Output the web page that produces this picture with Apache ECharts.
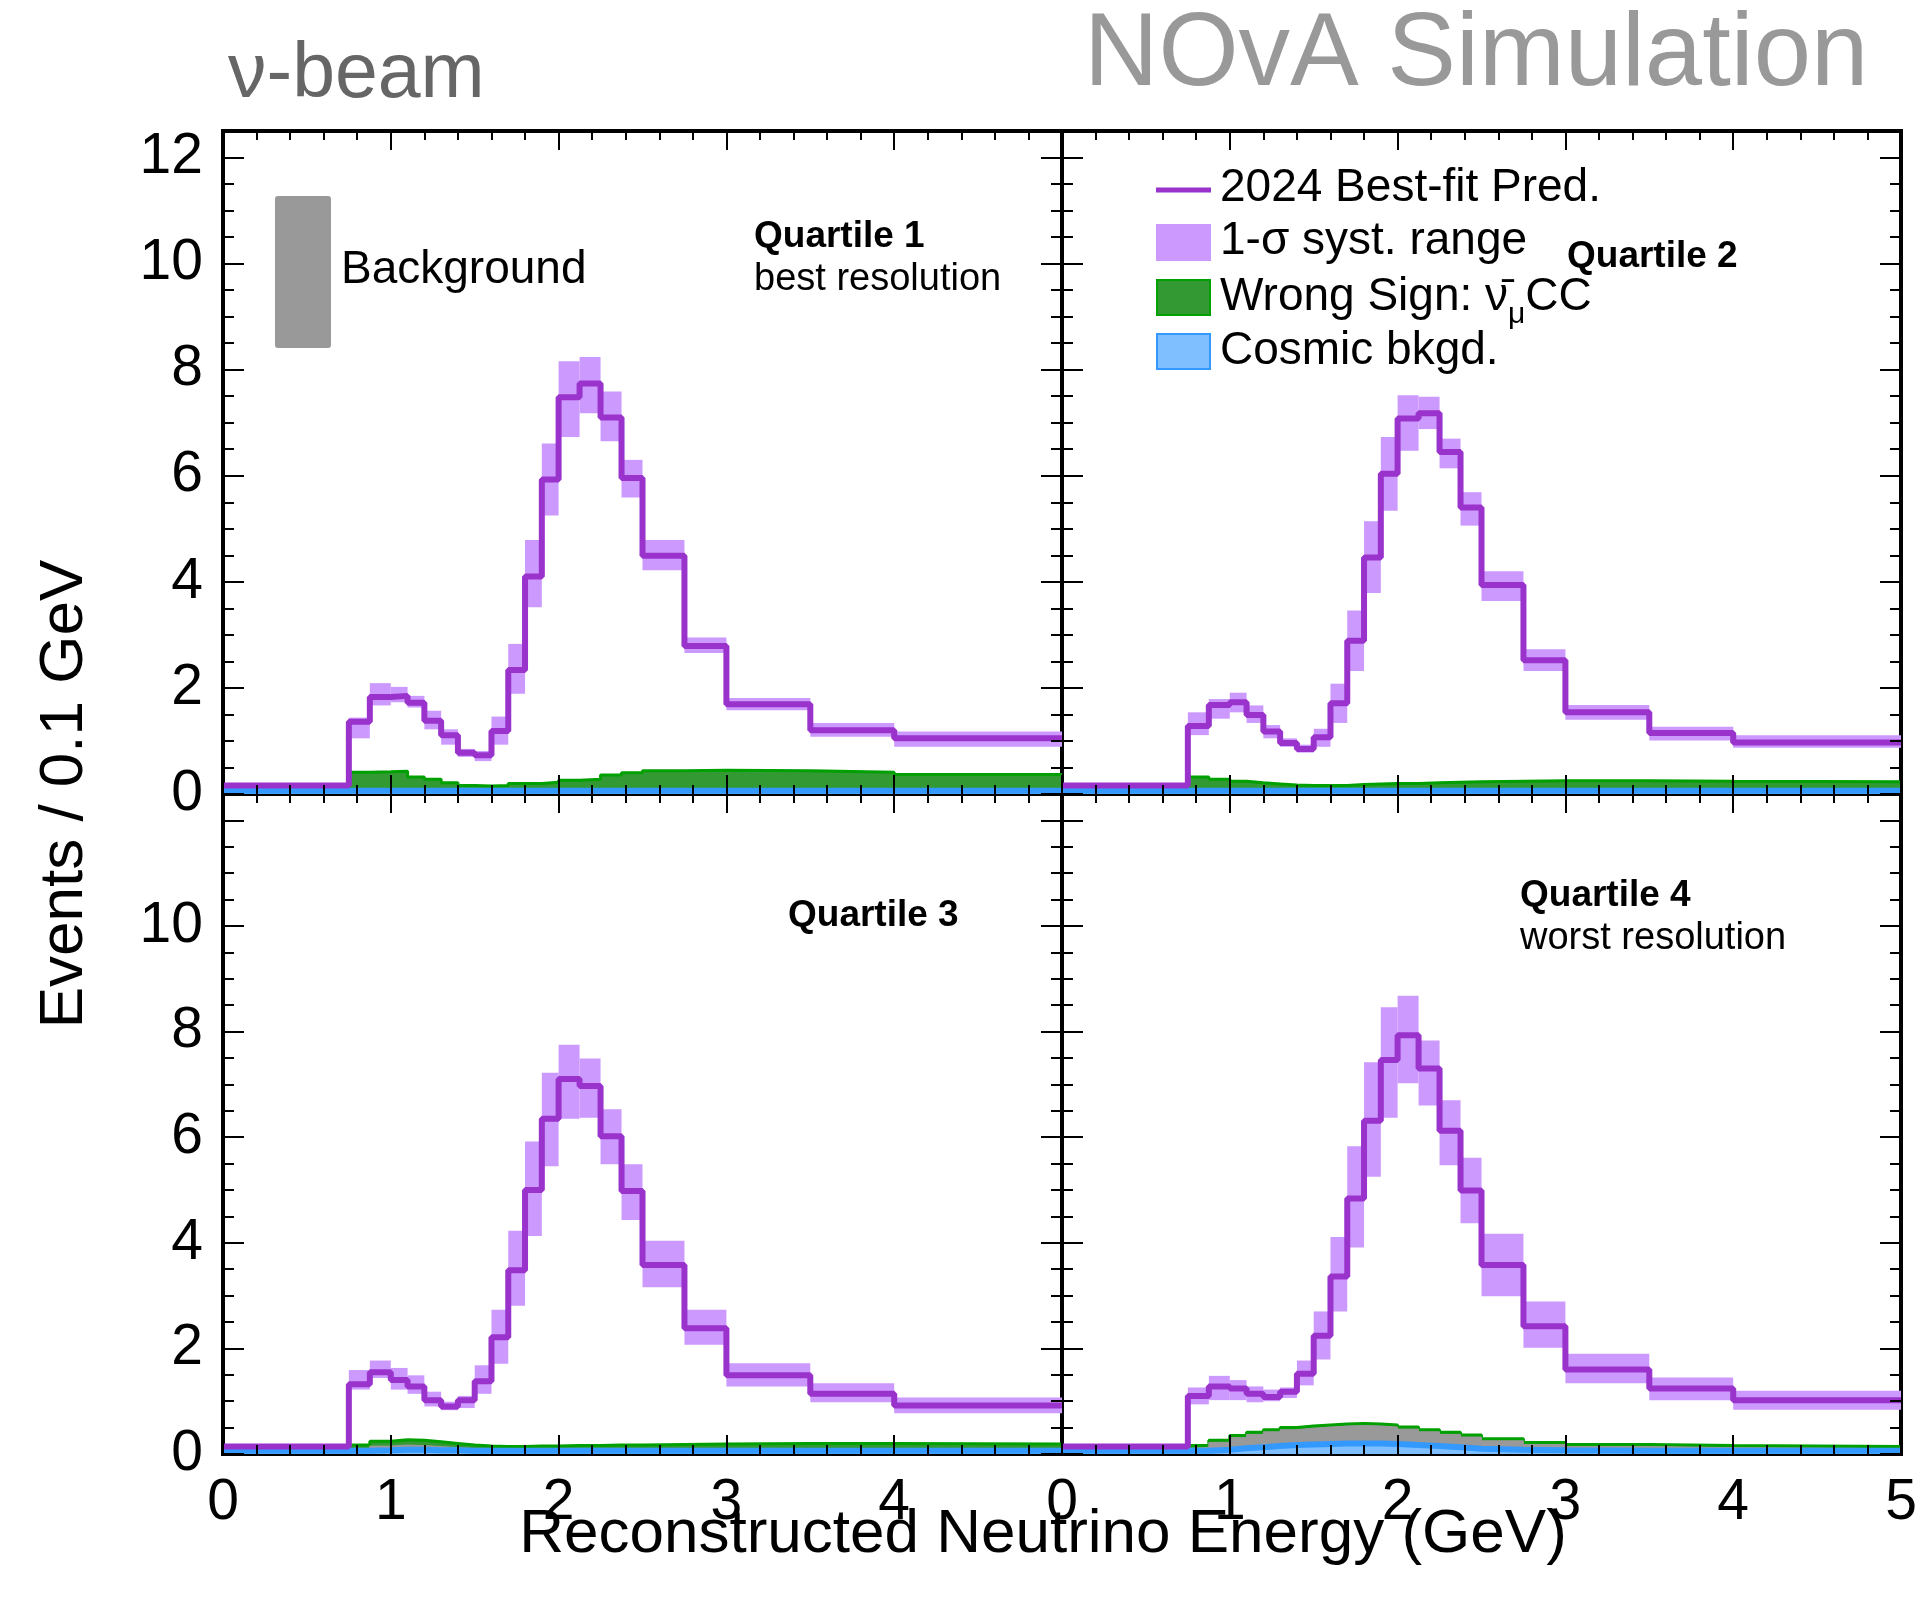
<!DOCTYPE html>
<html>
<head>
<meta charset="utf-8">
<script src="https://cdn.jsdelivr.net/npm/echarts@6/dist/echarts.min.js"></script>
<style>
  html, body { margin: 0; padding: 0; background: #fff; }
  #chart { width: 1922px; height: 1614px; }
</style>
</head>
<body>
<div id="chart"></div>
<script>
// bin edges (GeV), shared by all quartiles
const edges = [0, 0.75, 0.875, 1.0, 1.1, 1.2, 1.3, 1.4, 1.5, 1.6, 1.7, 1.8, 1.9, 2.0, 2.125, 2.25, 2.375, 2.5, 2.75, 3.0, 3.5, 4.0, 5.0];

// Quartile 1
const q1Pred = [0.16, 1.36, 1.83, 1.85, 1.72, 1.38, 1.11, 0.78, 0.73, 1.19, 2.34, 4.10, 5.93, 7.48, 7.74, 7.10, 5.96, 4.49, 2.79, 1.69, 1.20, 1.05];
const q1Lo   = [0.16, 1.05, 1.67, 1.73, 1.63, 1.22, 0.93, 0.70, 0.62, 0.93, 1.89, 3.52, 5.25, 6.73, 7.18, 6.65, 5.59, 4.22, 2.66, 1.58, 1.08, 0.89];
const q1Hi   = [0.16, 1.44, 2.09, 2.02, 1.85, 1.57, 1.22, 0.85, 0.81, 1.46, 2.83, 4.79, 6.61, 8.16, 8.24, 7.59, 6.30, 4.79, 2.95, 1.81, 1.34, 1.18];
const q1Cosmic = [0.06, 0.06, 0.06, 0.06, 0.06, 0.06, 0.06, 0.06, 0.06, 0.06, 0.06, 0.06, 0.06, 0.06, 0.06, 0.06, 0.06, 0.06, 0.06, 0.06, 0.06, 0.06];
const q1Other  = [0.02, 0.03, 0.04, 0.04, 0.03, 0.03, 0.02, 0.02, 0.02, 0.02, 0.02, 0.02, 0.02, 0.02, 0.02, 0.02, 0.02, 0.02, 0.02, 0.02, 0.02, 0.02];
const q1Wrong  = [0.03, 0.32, 0.32, 0.33, 0.23, 0.19, 0.13, 0.08, 0.07, 0.08, 0.12, 0.12, 0.14, 0.18, 0.20, 0.28, 0.32, 0.36, 0.37, 0.36, 0.33, 0.29];

// Quartile 2
const q2Pred = [0.16, 1.28, 1.68, 1.73, 1.49, 1.18, 0.96, 0.85, 1.07, 1.71, 2.89, 4.46, 6.04, 7.08, 7.18, 6.45, 5.40, 3.94, 2.52, 1.54, 1.15, 0.97];
const q2Lo   = [0.16, 1.11, 1.42, 1.54, 1.34, 1.05, 0.89, 0.78, 0.89, 1.34, 2.32, 3.79, 5.34, 6.47, 6.88, 6.14, 5.06, 3.64, 2.32, 1.40, 1.01, 0.87];
const q2Hi   = [0.16, 1.54, 1.79, 1.91, 1.67, 1.30, 1.05, 0.93, 1.23, 2.08, 3.46, 5.14, 6.73, 7.52, 7.49, 6.70, 5.69, 4.20, 2.73, 1.68, 1.27, 1.11];
const q2Cosmic = [0.06, 0.06, 0.06, 0.06, 0.06, 0.06, 0.06, 0.06, 0.06, 0.06, 0.06, 0.06, 0.06, 0.06, 0.06, 0.06, 0.06, 0.06, 0.06, 0.06, 0.06, 0.06];
const q2Other  = [0.02, 0.03, 0.03, 0.03, 0.02, 0.02, 0.02, 0.02, 0.02, 0.02, 0.02, 0.02, 0.02, 0.02, 0.02, 0.02, 0.02, 0.02, 0.02, 0.02, 0.02, 0.02];
const q2Wrong  = [0.03, 0.23, 0.19, 0.15, 0.13, 0.11, 0.09, 0.08, 0.08, 0.08, 0.10, 0.11, 0.12, 0.12, 0.13, 0.14, 0.15, 0.16, 0.17, 0.17, 0.16, 0.15];

// Quartile 3
const q3Pred = [0.14, 1.32, 1.55, 1.40, 1.28, 1.02, 0.90, 1.02, 1.38, 2.21, 3.48, 5.00, 6.35, 7.10, 6.97, 6.02, 4.98, 3.58, 2.38, 1.49, 1.14, 0.92];
const q3Lo   = [0.14, 1.22, 1.44, 1.22, 1.14, 0.90, 0.83, 0.87, 1.14, 1.71, 2.81, 4.13, 5.45, 6.35, 6.37, 5.49, 4.43, 3.16, 2.07, 1.28, 0.98, 0.77];
const q3Hi   = [0.14, 1.59, 1.77, 1.63, 1.49, 1.18, 0.99, 1.10, 1.68, 2.73, 4.23, 5.92, 7.22, 7.75, 7.49, 6.53, 5.49, 4.04, 2.73, 1.72, 1.34, 1.07];
const q3Cosmic = [0.06, 0.06, 0.07, 0.08, 0.08, 0.07, 0.07, 0.06, 0.06, 0.06, 0.06, 0.06, 0.06, 0.06, 0.06, 0.06, 0.06, 0.06, 0.06, 0.06, 0.06, 0.06];
const q3Other  = [0.02, 0.05, 0.08, 0.09, 0.08, 0.07, 0.05, 0.04, 0.03, 0.03, 0.03, 0.03, 0.03, 0.03, 0.03, 0.03, 0.03, 0.03, 0.03, 0.03, 0.03, 0.03];
const q3Wrong  = [0.03, 0.06, 0.09, 0.10, 0.10, 0.09, 0.08, 0.07, 0.06, 0.05, 0.05, 0.06, 0.06, 0.07, 0.07, 0.08, 0.08, 0.09, 0.10, 0.11, 0.11, 0.10];

// Quartile 4
const q4Pred = [0.14, 1.10, 1.28, 1.24, 1.14, 1.08, 1.18, 1.52, 2.24, 3.36, 4.84, 6.31, 7.46, 7.93, 7.30, 6.12, 4.99, 3.58, 2.42, 1.60, 1.24, 1.02];
const q4Lo   = [0.14, 0.94, 1.02, 1.02, 0.98, 1.00, 1.06, 1.30, 1.79, 2.70, 3.91, 5.25, 6.37, 7.02, 6.60, 5.47, 4.37, 2.99, 2.01, 1.34, 1.02, 0.84];
const q4Hi   = [0.14, 1.26, 1.48, 1.40, 1.28, 1.22, 1.26, 1.77, 2.70, 4.11, 5.83, 7.42, 8.46, 8.68, 7.83, 6.70, 5.61, 4.17, 2.89, 1.90, 1.45, 1.20];
const q4Cosmic = [0.06, 0.06, 0.08, 0.11, 0.13, 0.15, 0.17, 0.18, 0.19, 0.20, 0.20, 0.20, 0.19, 0.17, 0.15, 0.13, 0.10, 0.08, 0.07, 0.06, 0.06, 0.06];
const q4Other  = [0.04, 0.07, 0.14, 0.20, 0.24, 0.27, 0.29, 0.31, 0.32, 0.33, 0.34, 0.33, 0.32, 0.30, 0.27, 0.24, 0.22, 0.17, 0.11, 0.08, 0.06, 0.04];
const q4Wrong  = [0.02, 0.03, 0.04, 0.04, 0.04, 0.04, 0.04, 0.04, 0.04, 0.04, 0.04, 0.04, 0.04, 0.04, 0.04, 0.04, 0.04, 0.04, 0.04, 0.04, 0.04, 0.04];

const xTicks = [0, 1, 2, 3, 4, 5];
const yTicks = [0, 2, 4, 6, 8, 10, 12];

const FONT = '"Liberation Sans", Arial, Helvetica, sans-serif';

const panels = [
    { pred: q1Pred, lo: q1Lo, hi: q1Hi, cosmic: q1Cosmic, other: q1Other, wrong: q1Wrong },
    { pred: q2Pred, lo: q2Lo, hi: q2Hi, cosmic: q2Cosmic, other: q2Other, wrong: q2Wrong },
    { pred: q3Pred, lo: q3Lo, hi: q3Hi, cosmic: q3Cosmic, other: q3Other, wrong: q3Wrong },
    { pred: q4Pred, lo: q4Lo, hi: q4Hi, cosmic: q4Cosmic, other: q4Other, wrong: q4Wrong },
];

// histogram -> points for a step:'end' line
function stepPts(vals) {
    const pts = vals.map((v, i) => [edges[i], v]);
    pts.push([edges[edges.length - 1], vals[vals.length - 1]]);
    return pts;
}
function cum() {
    const arrs = Array.from(arguments);
    return arrs[0].map((_, i) => arrs.reduce((s, a) => s + a[i], 0));
}

const grids = [
    { left: 223, top: 131, width: 839, height: 663 },
    { left: 1062, top: 131, width: 839, height: 663 },
    { left: 223, top: 794, width: 839, height: 660 },
    { left: 1062, top: 794, width: 839, height: 660 },
];

const tickStyle = { color: '#000', width: 2 };
const xAxes = [], yAxes = [], series = [];

panels.forEach((d, p) => {
    const isBottom = p >= 2, isLeft = p % 2 === 0;
    ['bottom', 'top'].forEach(pos => {
        xAxes.push({
            type: 'value', gridIndex: p, min: 0, max: 5, interval: 1, position: pos, z: 10,
            axisLine: { show: false, onZero: false },
            axisTick: { inside: true, length: 19, lineStyle: tickStyle },
            minorTick: { show: true, splitNumber: 5, length: 9, lineStyle: tickStyle },
            splitLine: { show: false },
            axisLabel: {
                show: pos === 'bottom' && isBottom, fontSize: 57, color: '#000', fontFamily: FONT, margin: 21,
                formatter: v => (xTicks.indexOf(v) < 0 || (isLeft && v === 5)) ? '' : String(v)
            },
        });
    });
    ['left', 'right'].forEach(pos => {
        yAxes.push({
            type: 'value', gridIndex: p, min: 0, max: 12.5, interval: 2, position: pos, z: 10,
            axisLine: { show: false, onZero: false },
            axisTick: { inside: true, length: 21, lineStyle: tickStyle },
            splitLine: { show: false },
            axisLabel: {
                show: pos === 'left' && isLeft, fontSize: 57, color: '#000', fontFamily: FONT, margin: 20,
                formatter: v => (yTicks.indexOf(v) < 0 || (isBottom && v === 12)) ? '' : String(v)
            },
        });
        yAxes.push({
            type: 'value', gridIndex: p, min: 0, max: 12.5, interval: 0.5, position: pos, z: 10,
            axisLine: { show: false, onZero: false },
            axisTick: { inside: true, length: 11, lineStyle: tickStyle },
            splitLine: { show: false },
            axisLabel: { show: false },
        });
    });

    const xi = 2 * p, yi = 4 * p;
    const base = { type: 'line', xAxisIndex: xi, yAxisIndex: yi, step: 'end', symbol: 'none', silent: true };
    series.push(Object.assign({}, base, {
        name: 'Wrong Sign', z: 2,
        data: stepPts(cum(d.cosmic, d.other, d.wrong)),
        lineStyle: { color: '#00a000', width: 3 },
        areaStyle: { color: '#339933', opacity: 1 },
    }));
    series.push(Object.assign({}, base, {
        name: 'Background', z: 3,
        data: stepPts(cum(d.cosmic, d.other)),
        lineStyle: { color: '#999999', width: 1 },
        areaStyle: { color: '#999999', opacity: 1 },
    }));
    series.push(Object.assign({}, base, {
        name: 'Cosmic bkgd.', z: 4,
        data: stepPts(d.cosmic),
        lineStyle: { color: '#3399ff', width: 6 },
        areaStyle: { color: '#80bfff', opacity: 1 },
    }));
    series.push({
        type: 'custom', name: '1-sigma', xAxisIndex: xi, yAxisIndex: yi, z: 5, silent: true,
        encode: { x: [0, 1], y: [2, 3] },
        data: d.pred.map((_, i) => [edges[i], edges[i + 1], d.lo[i], d.hi[i]]),
        renderItem: function (params, api) {
            const a = api.coord([api.value(0), api.value(3)]);
            const b = api.coord([api.value(1), api.value(2)]);
            return {
                type: 'rect',
                shape: { x: a[0], y: a[1], width: b[0] - a[0], height: b[1] - a[1] },
                style: { fill: '#cc99ff' },
            };
        },
    });
    series.push(Object.assign({}, base, {
        name: '2024 Best-fit Pred.', z: 6,
        data: stepPts(d.pred),
        lineStyle: { color: '#9933cc', width: 6 },
    }));
});

function txt(x, y, text, size, opts) {
    return {
        type: 'text', x: x, y: y, z: 20, silent: true,
        rotation: (opts && opts.rotation) || 0,
        style: Object.assign({
            text: text, fill: '#000', align: 'left', verticalAlign: 'middle',
            font: size + 'px ' + FONT,
        }, (opts && opts.style) || {}),
    };
}

const graphics = [
    txt(228, 76, 'ν-beam', 77, { style: { fill: '#666666' } }),
    txt(1084, 57, 'NOvA Simulation', 103, { style: { fill: '#999999' } }),
    txt(65, 794, 'Events / 0.1 GeV', 62, { rotation: Math.PI / 2, style: { align: 'center' } }),
    txt(1043, 1535, 'Reconstructed Neutrino Energy (GeV)', 62, { style: { align: 'center' } }),

    // background key in quartile 1
    { type: 'rect', z: 20, silent: true, shape: { x: 275, y: 196, width: 56, height: 152, r: 3 }, style: { fill: '#999999' } },
    txt(341, 270, 'Background', 46),

    // legend in quartile 2
    { type: 'line', z: 20, silent: true, shape: { x1: 1156, y1: 190, x2: 1211, y2: 190 }, style: { stroke: '#9933cc', lineWidth: 5 } },
    txt(1220, 188, '2024 Best-fit Pred.', 46),
    { type: 'rect', z: 20, silent: true, shape: { x: 1156, y: 224, width: 55, height: 37 }, style: { fill: '#cc99ff' } },
    txt(1220, 241, '1-σ syst. range', 46),
    { type: 'rect', z: 20, silent: true, shape: { x: 1157, y: 280, width: 53, height: 35 }, style: { fill: '#339933', stroke: '#00a000', lineWidth: 2 } },
    {
        type: 'text', x: 1220, y: 297, z: 20, silent: true,
        style: {
            text: '{a|Wrong Sign: ν\u0304}{s|μ}{a|CC}', fill: '#000', align: 'left', verticalAlign: 'middle',
            rich: { a: { fontSize: 46, fontFamily: FONT }, s: { fontSize: 30, fontFamily: FONT, padding: [36, 0, 0, 0] } },
        },
    },
    { type: 'rect', z: 20, silent: true, shape: { x: 1157, y: 334, width: 53, height: 35 }, style: { fill: '#80bfff', stroke: '#3399ff', lineWidth: 2 } },
    txt(1220, 351, 'Cosmic bkgd.', 46),

    // quartile captions
    txt(754, 237, 'Quartile 1', 37, { style: { font: 'bold 37px ' + FONT } }),
    txt(754, 280, 'best resolution', 38),
    txt(1567, 257, 'Quartile 2', 37, { style: { font: 'bold 37px ' + FONT } }),
    txt(788, 916, 'Quartile 3', 37, { style: { font: 'bold 37px ' + FONT } }),
    txt(1520, 896, 'Quartile 4', 37, { style: { font: 'bold 37px ' + FONT } }),
    txt(1520, 939, 'worst resolution', 38),
];

const chart = echarts.init(document.getElementById('chart'), null, { renderer: 'canvas' });
chart.setOption({
    animation: false,
    backgroundColor: '#fff',
    grid: grids.map(g => Object.assign({ show: true, borderColor: '#000', borderWidth: 4, backgroundColor: 'transparent' }, g)),
    xAxis: xAxes,
    yAxis: yAxes,
    series: series,
    graphic: graphics,
});
</script>
</body>
</html>
